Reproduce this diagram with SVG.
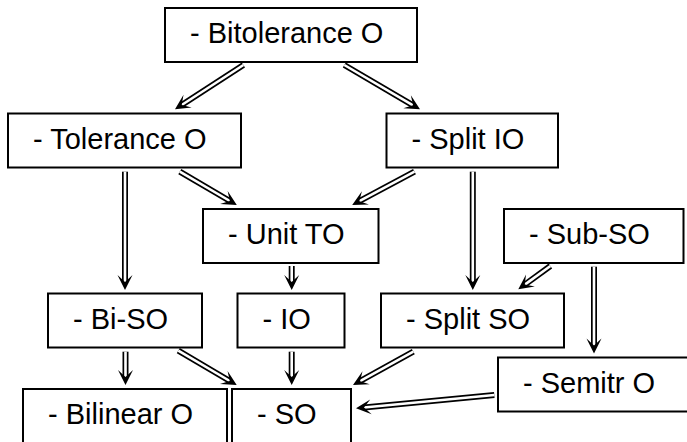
<svg xmlns="http://www.w3.org/2000/svg" xmlns:xlink="http://www.w3.org/1999/xlink" width="687" height="442" viewBox="0 0 687 442">
<style>
.box rect{fill:#fff;stroke:#000;stroke-width:2}
.box text{font-family:"Liberation Sans",Arial,sans-serif;font-size:29px;fill:#000}
.arrow .o{stroke:#000;stroke-width:6;fill:none}
.arrow .i{stroke:#fff;stroke-width:2.6;fill:none}
</style>
<defs>
<path id="head" d="M0,0 L-15,-7.5 L-8,0 L-15,7.5 Z" fill="#000"/>
</defs>
<rect width="687" height="442" fill="#fff"/>
<g id="nodes">
<g id="bitolerance" class="box"><rect x="165" y="8" width="252" height="54"/><text x="190" y="42.5">- Bitolerance O</text></g>
<g id="tolerance" class="box"><rect x="8" y="113.5" width="233" height="54"/><text x="33" y="148.5">- Tolerance O</text></g>
<g id="splitio" class="box"><rect x="386.5" y="113.5" width="171.5" height="54"/><text x="411.5" y="148.5">- Split IO</text></g>
<g id="unitto" class="box"><rect x="203" y="209" width="175.5" height="54"/><text x="228" y="244">- Unit TO</text></g>
<g id="subso" class="box"><rect x="504" y="209" width="179.5" height="54"/><text x="529" y="244">- Sub-SO</text></g>
<g id="biso" class="box"><rect x="48" y="293.5" width="154" height="54"/><text x="73" y="328.5">- Bi-SO</text></g>
<g id="io" class="box"><rect x="237.5" y="293.5" width="107" height="54"/><text x="262.5" y="328.5">- IO</text></g>
<g id="splitso" class="box"><rect x="381" y="293.5" width="183" height="54"/><text x="406" y="328.5">- Split SO</text></g>
<g id="semitr" class="box"><rect x="498" y="357.5" width="195" height="54"/><text x="523" y="392.5">- Semitr O</text></g>
<g id="bilinear" class="box"><rect x="23" y="389" width="204" height="60"/><text x="48" y="423.5">- Bilinear O</text></g>
<g id="so" class="box"><rect x="232" y="389" width="119" height="60"/><text x="257" y="423.5">- SO</text></g>
</g>
<g id="connectors">
<g class="arrow"><line class="o" x1="243.4" y1="65" x2="181.7" y2="105"/><line class="i" x1="243.4" y1="65" x2="181.7" y2="105"/><use xlink:href="#head" transform="translate(175 109.3) rotate(147.1)"/></g>
<g class="arrow"><line class="o" x1="344.3" y1="65" x2="413.1" y2="105.3"/><line class="i" x1="344.3" y1="65" x2="413.1" y2="105.3"/><use xlink:href="#head" transform="translate(420 109.3) rotate(30.3)"/></g>
<g class="arrow"><line class="o" x1="125" y1="171.7" x2="125" y2="282"/><line class="i" x1="125" y1="171.7" x2="125" y2="282"/><use xlink:href="#head" transform="translate(125 290) rotate(90)"/></g>
<g class="arrow"><line class="o" x1="179.8" y1="171.7" x2="229.9" y2="201"/><line class="i" x1="179.8" y1="171.7" x2="229.9" y2="201"/><use xlink:href="#head" transform="translate(236.8 205) rotate(30.3)"/></g>
<g class="arrow"><line class="o" x1="414.5" y1="171.7" x2="359.3" y2="201.2"/><line class="i" x1="414.5" y1="171.7" x2="359.3" y2="201.2"/><use xlink:href="#head" transform="translate(352.2 205) rotate(151.9)"/></g>
<g class="arrow"><line class="o" x1="472.8" y1="171.7" x2="472.8" y2="282"/><line class="i" x1="472.8" y1="171.7" x2="472.8" y2="282"/><use xlink:href="#head" transform="translate(472.8 290) rotate(90)"/></g>
<g class="arrow"><line class="o" x1="291.7" y1="266" x2="291.7" y2="282"/><line class="i" x1="291.7" y1="266" x2="291.7" y2="282"/><use xlink:href="#head" transform="translate(291.7 290) rotate(90)"/></g>
<g class="arrow"><line class="o" x1="550.4" y1="266" x2="524.8" y2="284.6"/><line class="i" x1="550.4" y1="266" x2="524.8" y2="284.6"/><use xlink:href="#head" transform="translate(518.3 289.3) rotate(144)"/></g>
<g class="arrow"><line class="o" x1="594" y1="266.7" x2="594" y2="345.5"/><line class="i" x1="594" y1="266.7" x2="594" y2="345.5"/><use xlink:href="#head" transform="translate(594 353.5) rotate(90)"/></g>
<g class="arrow"><line class="o" x1="125.5" y1="351.7" x2="125.5" y2="377"/><line class="i" x1="125.5" y1="351.7" x2="125.5" y2="377"/><use xlink:href="#head" transform="translate(125.5 385) rotate(90)"/></g>
<g class="arrow"><line class="o" x1="178.3" y1="350.7" x2="229.8" y2="381"/><line class="i" x1="178.3" y1="350.7" x2="229.8" y2="381"/><use xlink:href="#head" transform="translate(236.7 385) rotate(30.4)"/></g>
<g class="arrow"><line class="o" x1="291.7" y1="351.7" x2="291.7" y2="377"/><line class="i" x1="291.7" y1="351.7" x2="291.7" y2="377"/><use xlink:href="#head" transform="translate(291.7 385) rotate(90)"/></g>
<g class="arrow"><line class="o" x1="413.3" y1="351.7" x2="360" y2="381.1"/><line class="i" x1="413.3" y1="351.7" x2="360" y2="381.1"/><use xlink:href="#head" transform="translate(353 385) rotate(151.1)"/></g>
<g class="arrow"><line class="o" x1="494.3" y1="395" x2="364" y2="407.5"/><line class="i" x1="494.3" y1="395" x2="364" y2="407.5"/><use xlink:href="#head" transform="translate(356 408.3) rotate(174.5)"/></g>
</g>
</svg>
